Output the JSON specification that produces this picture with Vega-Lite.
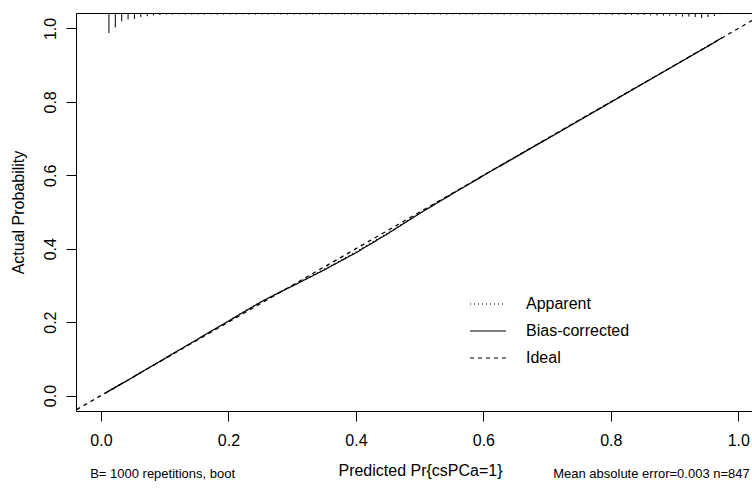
{
  "$schema": "https://vega.github.io/schema/vega-lite/v6.json",
  "width": 676,
  "height": 398,
  "autosize": "none",
  "padding": {"left": 76, "top": 13, "right": 0, "bottom": 78},
  "background": "white",
  "config": {"view": {"stroke": null}, "font": "Liberation Sans"},
  "datasets": {
    "curves": [
      {"series": "Apparent", "x": 0.006, "y": 0.006},
      {"series": "Apparent", "x": 0.05, "y": 0.05},
      {"series": "Apparent", "x": 0.1, "y": 0.101},
      {"series": "Apparent", "x": 0.15, "y": 0.152},
      {"series": "Apparent", "x": 0.2, "y": 0.203},
      {"series": "Apparent", "x": 0.25, "y": 0.255},
      {"series": "Apparent", "x": 0.28, "y": 0.282},
      {"series": "Apparent", "x": 0.3, "y": 0.299},
      {"series": "Apparent", "x": 0.35, "y": 0.344},
      {"series": "Apparent", "x": 0.4, "y": 0.391},
      {"series": "Apparent", "x": 0.45, "y": 0.443},
      {"series": "Apparent", "x": 0.5, "y": 0.497},
      {"series": "Apparent", "x": 0.55, "y": 0.549},
      {"series": "Apparent", "x": 0.6, "y": 0.6},
      {"series": "Apparent", "x": 0.65, "y": 0.65},
      {"series": "Apparent", "x": 0.7, "y": 0.7},
      {"series": "Apparent", "x": 0.75, "y": 0.75},
      {"series": "Apparent", "x": 0.8, "y": 0.8},
      {"series": "Apparent", "x": 0.85, "y": 0.85},
      {"series": "Apparent", "x": 0.9, "y": 0.9},
      {"series": "Apparent", "x": 0.95, "y": 0.95},
      {"series": "Apparent", "x": 0.975, "y": 0.976},
      {"series": "Bias-corrected", "x": 0.006, "y": 0.006},
      {"series": "Bias-corrected", "x": 0.05, "y": 0.05},
      {"series": "Bias-corrected", "x": 0.1, "y": 0.101},
      {"series": "Bias-corrected", "x": 0.15, "y": 0.152},
      {"series": "Bias-corrected", "x": 0.2, "y": 0.203},
      {"series": "Bias-corrected", "x": 0.25, "y": 0.254},
      {"series": "Bias-corrected", "x": 0.28, "y": 0.281},
      {"series": "Bias-corrected", "x": 0.3, "y": 0.298},
      {"series": "Bias-corrected", "x": 0.35, "y": 0.342},
      {"series": "Bias-corrected", "x": 0.4, "y": 0.389},
      {"series": "Bias-corrected", "x": 0.45, "y": 0.441},
      {"series": "Bias-corrected", "x": 0.5, "y": 0.496},
      {"series": "Bias-corrected", "x": 0.55, "y": 0.548},
      {"series": "Bias-corrected", "x": 0.6, "y": 0.599},
      {"series": "Bias-corrected", "x": 0.65, "y": 0.649},
      {"series": "Bias-corrected", "x": 0.7, "y": 0.699},
      {"series": "Bias-corrected", "x": 0.75, "y": 0.749},
      {"series": "Bias-corrected", "x": 0.8, "y": 0.799},
      {"series": "Bias-corrected", "x": 0.85, "y": 0.849},
      {"series": "Bias-corrected", "x": 0.9, "y": 0.899},
      {"series": "Bias-corrected", "x": 0.95, "y": 0.949},
      {"series": "Bias-corrected", "x": 0.975, "y": 0.975},
      {"series": "Ideal", "x": -0.06, "y": -0.06},
      {"series": "Ideal", "x": 1.06, "y": 1.06}
    ],
    "rug": [
      {"p": 0.0125, "n": 100}, {"p": 0.0225, "n": 72}, {"p": 0.0325, "n": 42}, {"p": 0.0425, "n": 32},
      {"p": 0.0525, "n": 30}, {"p": 0.0625, "n": 20}, {"p": 0.0725, "n": 16}, {"p": 0.0825, "n": 12},
      {"p": 0.0925, "n": 10}, {"p": 0.1025, "n": 8}, {"p": 0.1125, "n": 8}, {"p": 0.1225, "n": 8},
      {"p": 0.1325, "n": 8}, {"p": 0.1425, "n": 8}, {"p": 0.1525, "n": 8}, {"p": 0.1625, "n": 8},
      {"p": 0.1725, "n": 8}, {"p": 0.1825, "n": 8}, {"p": 0.1925, "n": 8}, {"p": 0.2025, "n": 8},
      {"p": 0.2125, "n": 8}, {"p": 0.2225, "n": 8}, {"p": 0.2325, "n": 8}, {"p": 0.2425, "n": 8},
      {"p": 0.2525, "n": 8}, {"p": 0.2625, "n": 8}, {"p": 0.2725, "n": 8}, {"p": 0.2825, "n": 8},
      {"p": 0.2925, "n": 8}, {"p": 0.3025, "n": 8}, {"p": 0.3125, "n": 8}, {"p": 0.3225, "n": 8},
      {"p": 0.3325, "n": 8}, {"p": 0.3425, "n": 8}, {"p": 0.3525, "n": 8}, {"p": 0.3625, "n": 8},
      {"p": 0.3725, "n": 8}, {"p": 0.3825, "n": 8}, {"p": 0.3925, "n": 8}, {"p": 0.4025, "n": 8},
      {"p": 0.4125, "n": 8}, {"p": 0.4225, "n": 8}, {"p": 0.4325, "n": 8}, {"p": 0.4425, "n": 8},
      {"p": 0.4525, "n": 8}, {"p": 0.4625, "n": 8}, {"p": 0.4725, "n": 8}, {"p": 0.4825, "n": 8},
      {"p": 0.4925, "n": 8}, {"p": 0.5025, "n": 8}, {"p": 0.5125, "n": 8}, {"p": 0.5225, "n": 8},
      {"p": 0.5325, "n": 8}, {"p": 0.5425, "n": 8}, {"p": 0.5525, "n": 8}, {"p": 0.5625, "n": 8},
      {"p": 0.5725, "n": 8}, {"p": 0.5825, "n": 8}, {"p": 0.5925, "n": 8}, {"p": 0.6025, "n": 8},
      {"p": 0.6125, "n": 8}, {"p": 0.6225, "n": 8}, {"p": 0.6325, "n": 8}, {"p": 0.6425, "n": 8},
      {"p": 0.6525, "n": 8}, {"p": 0.6625, "n": 8}, {"p": 0.6725, "n": 8}, {"p": 0.6825, "n": 8},
      {"p": 0.6925, "n": 8}, {"p": 0.7025, "n": 8}, {"p": 0.7125, "n": 8}, {"p": 0.7225, "n": 8},
      {"p": 0.7325, "n": 8}, {"p": 0.7425, "n": 8}, {"p": 0.7525, "n": 8}, {"p": 0.7625, "n": 8},
      {"p": 0.7725, "n": 8}, {"p": 0.7825, "n": 8}, {"p": 0.7925, "n": 8}, {"p": 0.8025, "n": 9},
      {"p": 0.8125, "n": 9}, {"p": 0.8225, "n": 9}, {"p": 0.8325, "n": 10}, {"p": 0.8425, "n": 10},
      {"p": 0.8525, "n": 10}, {"p": 0.8625, "n": 12}, {"p": 0.8725, "n": 13}, {"p": 0.8825, "n": 13},
      {"p": 0.8925, "n": 13}, {"p": 0.9025, "n": 14}, {"p": 0.9125, "n": 18}, {"p": 0.9225, "n": 18},
      {"p": 0.9325, "n": 20}, {"p": 0.9425, "n": 26}, {"p": 0.9525, "n": 20}, {"p": 0.9625, "n": 15},
      {"p": 0.9725, "n": 6}, {"p": 0.9825, "n": 5}
    ]
  },
  "layer": [
    {
      "data": {"name": "curves"},
      "mark": {"type": "line", "clip": true, "strokeWidth": 1.2, "color": "black"},
      "encoding": {
        "x": {
          "field": "x", "type": "quantitative",
          "scale": {"domain": [-0.0392, 1.0215], "nice": false, "zero": false},
          "axis": {
            "orient": "bottom", "values": [0, 0.2, 0.4, 0.6, 0.8, 1], "format": ".1f",
            "title": "Predicted Pr{csPCa=1}", "titleX": 344, "titleFontSize": 16, "titleFontWeight": "normal",
            "titleFont": "Liberation Sans", "titlePadding": 14, "titleColor": "black",
            "labelFontSize": 16, "labelFont": "Liberation Sans", "labelPadding": 11, "labelColor": "black",
            "labelFlush": false, "labelOverlap": false,
            "tickSize": 10, "tickColor": "black", "domainColor": "black", "grid": false
          }
        },
        "y": {
          "field": "y", "type": "quantitative",
          "scale": {"domain": [-0.042, 1.042], "nice": false, "zero": false},
          "axis": {
            "values": [0, 0.2, 0.4, 0.6, 0.8, 1], "format": ".1f",
            "title": "Actual Probability", "titleFontSize": 16, "titleFontWeight": "normal",
            "titleFont": "Liberation Sans", "titlePadding": 16, "titleColor": "black",
            "labelFontSize": 16, "labelFont": "Liberation Sans", "labelAngle": -90,
            "labelAlign": "center", "labelBaseline": "bottom", "labelPadding": 8, "labelColor": "black",
            "labelFlush": false, "labelOverlap": false,
            "tickSize": 10, "tickColor": "black", "domainColor": "black", "grid": false
          }
        },
        "strokeDash": {
          "field": "series", "type": "nominal",
          "scale": {"domain": ["Apparent", "Bias-corrected", "Ideal"], "range": [[1, 3], [1, 0], [4, 4]]},
          "legend": {
            "title": null, "orient": "none", "legendX": 393, "legendY": 272, "padding": 0,
            "symbolType": "stroke", "symbolSize": 1296, "symbolStrokeWidth": 1.2, "symbolStrokeColor": "black",
            "labelFontSize": 16, "labelFont": "Liberation Sans", "labelColor": "black",
            "labelOffset": 19, "rowPadding": -10
          }
        }
      }
    },
    {
      "data": {"name": "rug"},
      "mark": {"type": "rule", "color": "black", "strokeWidth": 1},
      "encoding": {
        "x": {
          "field": "p", "type": "quantitative",
          "scale": {"domain": [-0.0392, 1.0215], "nice": false, "zero": false},
          "axis": {"orient": "top", "ticks": false, "labels": false, "title": null, "domain": true, "domainColor": "black", "grid": false}
        },
        "y": {
          "field": "n", "type": "quantitative",
          "scale": {"domain": [0, 100], "range": [0, 20], "nice": false, "zero": false},
          "axis": null
        },
        "y2": {"datum": 0}
      }
    },
    {
      "data": {"values": [{}]},
      "mark": {"type": "text", "align": "left", "baseline": "middle", "fontSize": 13, "font": "Liberation Sans", "color": "black"},
      "encoding": {
        "x": {"datum": -0.017, "type": "quantitative", "axis": null},
        "y": {"datum": -0.2144, "type": "quantitative", "scale": {"domain": [-0.042, 1.042], "nice": false, "zero": false}, "axis": null},
        "text": {"value": "B= 1000 repetitions, boot"}
      }
    },
    {
      "data": {"values": [{}]},
      "mark": {"type": "text", "align": "right", "baseline": "middle", "fontSize": 13, "font": "Liberation Sans", "color": "black"},
      "encoding": {
        "x": {"datum": 1.018, "type": "quantitative", "axis": null},
        "y": {"datum": -0.2144, "type": "quantitative", "scale": {"domain": [-0.042, 1.042], "nice": false, "zero": false}, "axis": null},
        "text": {"value": "Mean absolute error=0.003 n=847"}
      }
    }
  ],
  "resolve": {"scale": {"y": "independent"}, "axis": {"x": "independent", "y": "independent"}}
}
